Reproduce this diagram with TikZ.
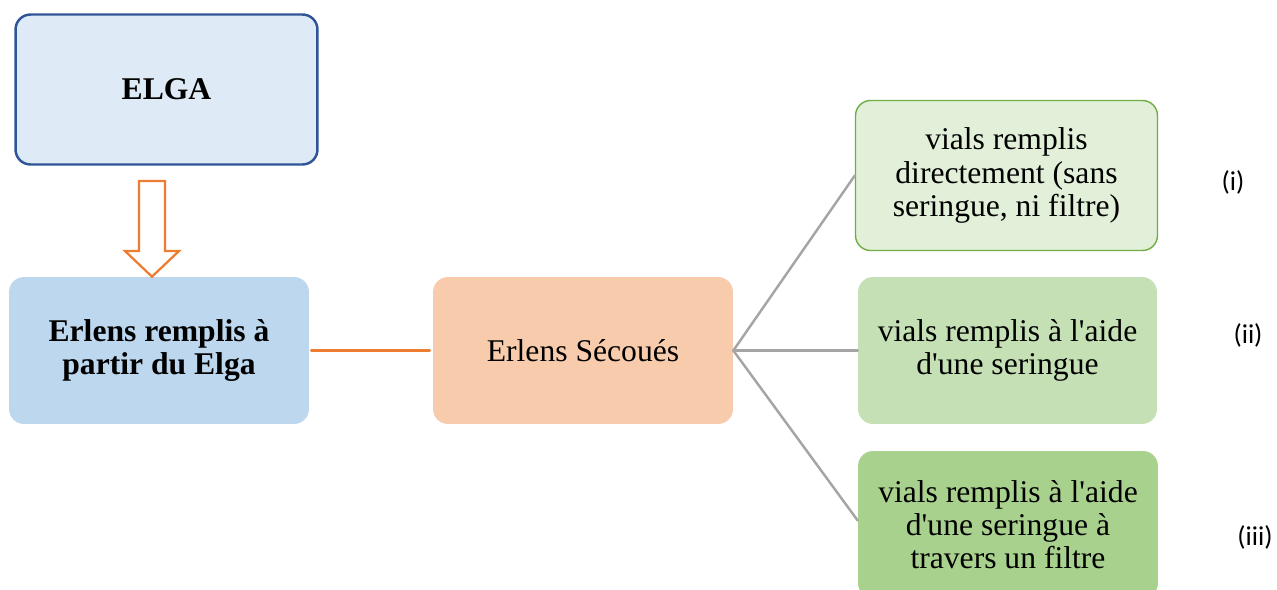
\documentclass[tikz,border=0pt]{standalone}
\usepackage{fontspec}
\setmainfont{Liberation Serif}
\newfontfamily\labelfont{Carlito}
\usetikzlibrary{positioning}
\definecolor{elgafill}{HTML}{DEEBF7}
\definecolor{elgaline}{HTML}{2F5597}
\definecolor{erlfill}{HTML}{BDD7EE}
\definecolor{secfill}{HTML}{F8CBAD}
\definecolor{vialA}{HTML}{E2F0D9}
\definecolor{vialB}{HTML}{C5E0B4}
\definecolor{vialC}{HTML}{A9D18E}
\definecolor{vialline}{HTML}{70AD47}
\definecolor{orangeline}{HTML}{ED7D31}
\definecolor{greyline}{HTML}{A5A5A5}
\tikzset{
	box/.style={rounded corners=0.3cm, align=center, inner sep=0pt, font=\fontsize{18}{18.9}\selectfont},
	tag/.style={font=\labelfont\fontsize{15.5}{18}\selectfont, inner sep=0pt},
	branch/.style={draw=greyline, line width=1.4pt},
}
\begin{document}
\begin{tikzpicture}[x=0.02cm, y=-0.02cm, line join=round, line cap=round]
			\useasboundingbox (0,0) rectangle (1277,589);
			\clip (0,0) rectangle (1277,589);
			% boîtes de gauche
			\node[box, draw=elgaline, line width=1.4pt, fill=elgafill, minimum width=6.04cm, minimum height=3.0cm, font=\bfseries\fontsize{18}{20}\selectfont] (elga) at (166.5,89.5) {ELGA};
			\node[box, fill=erlfill, minimum width=6.0cm, minimum height=2.94cm, font=\bfseries\fontsize{18}{19.2}\selectfont] (erlens) at (159,350.5) {Erlens remplis à\\partir du Elga};
			\node[box, fill=secfill, minimum width=6.0cm, minimum height=2.94cm] (secoues) at (583,350.5) {Erlens Sécoués};
			% vials
			\node[box, draw=vialline, line width=0.8pt, fill=vialA, minimum width=6.04cm, minimum height=3.0cm] (vialun) at (1006.5,175.5) {vials remplis\\directement (sans\\seringue, ni filtre)};
			\node[box, fill=vialB, minimum width=5.98cm, minimum height=2.94cm] (vialdeux) at (1007.5,350.5) {vials remplis à l\textquotesingle aide\\d\textquotesingle une seringue};
			\node[box, fill=vialC, minimum width=6.0cm, minimum height=2.94cm] (vialtrois) at (1008,524.5) {vials remplis à l\textquotesingle aide\\d\textquotesingle une seringue à\\travers un filtre};
			% étiquettes
			\node[tag] (tagun) at (1233,182) {(i)};
			\node[tag] (tagdeux) at (1248,335) {(ii)};
			\node[tag] (tagtrois) at (1255,537) {(iii)};
			% flèche creuse
			\draw[orangeline, line width=1.3pt, fill=white, line join=miter]
				(139,181) -- (139,251) -- (125,251) -- (erlens.north -| 152,0) -- (179,251) -- (165,251) -- (165,181) -- cycle;
			% liaisons
			\draw[orangeline, line width=1.6pt] ([xshift=0.04cm]erlens.east) -- ([xshift=-0.06cm]secoues.west);
			\coordinate (noeud) at (secoues.east);
			\draw[branch] (noeud) -- (vialun.west);
			\draw[branch] (noeud) -- (vialdeux.west);
			\draw[branch] (noeud) -- ([yshift=0.08cm]vialtrois.west);
		\end{tikzpicture}
\end{document}
